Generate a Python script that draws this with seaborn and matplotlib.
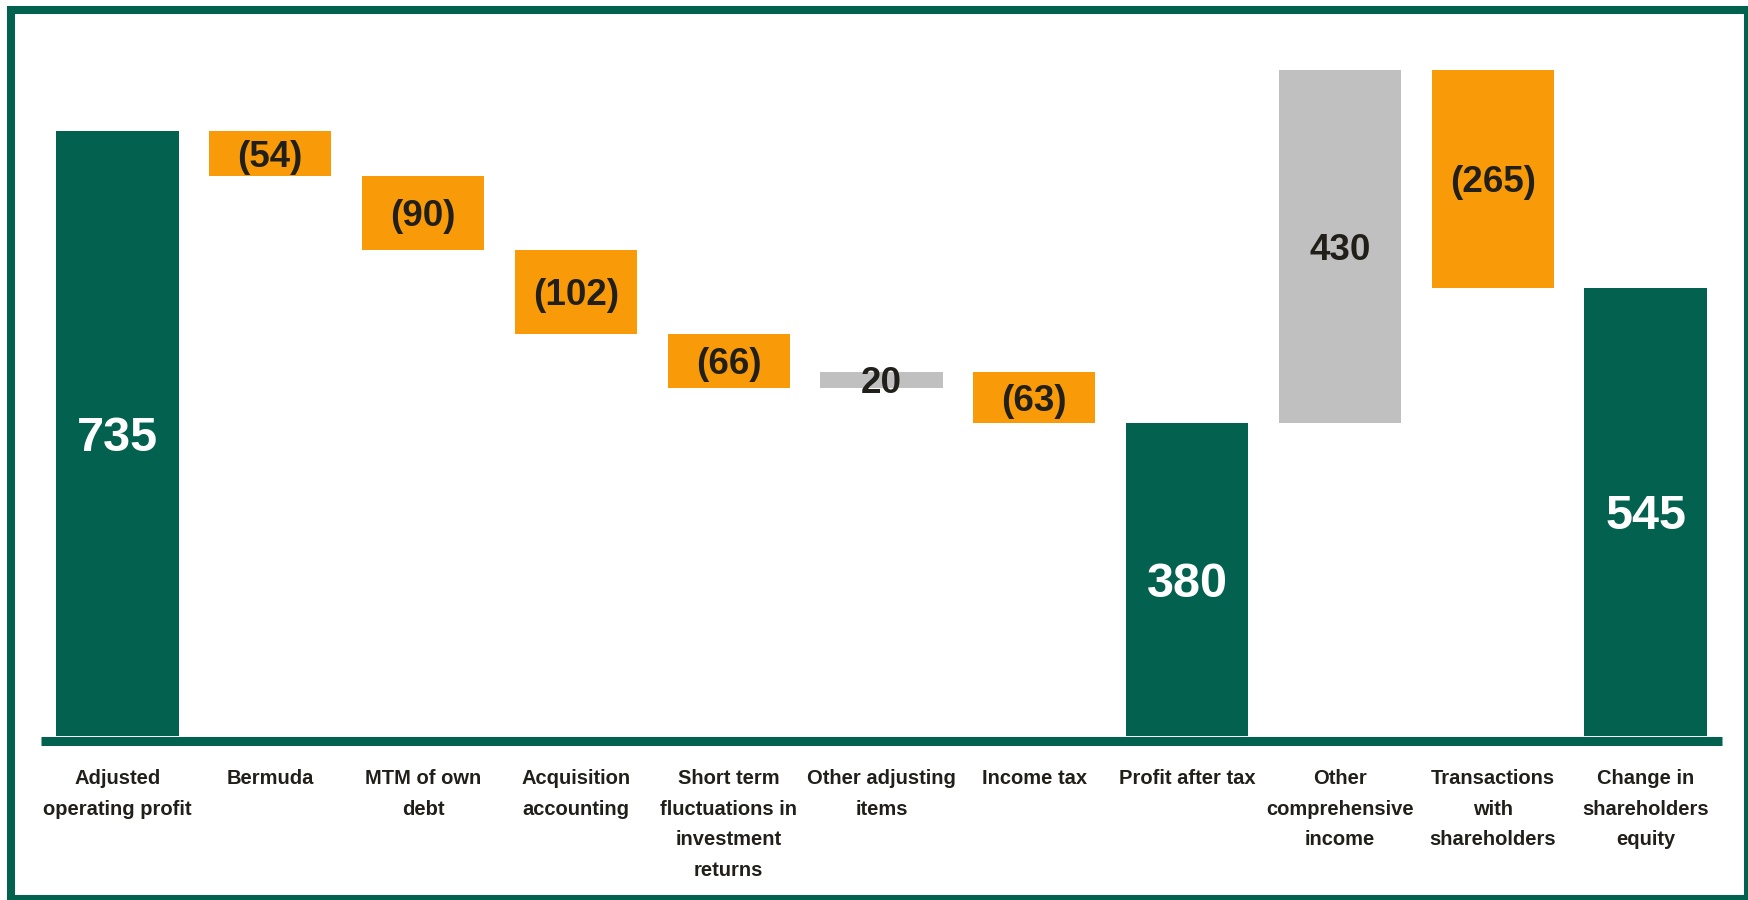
import matplotlib
matplotlib.use("Agg")
import matplotlib.pyplot as plt
import numpy as np
import pandas as pd
import seaborn as sns
from matplotlib.patches import Rectangle

categories = [
    "Adjusted\noperating profit", "Bermuda", "MTM of own\ndebt", "Acquisition\naccounting",
    "Short term\nfluctuations in\ninvestment\nreturns", "Other adjusting\nitems", "Income tax",
    "Profit after tax", "Other\ncomprehensive\nincome", "Transactions\nwith\nshareholders",
    "Change in\nshareholders\nequity",
]
values = [735, -54, -90, -102, -66, 20, -63, 380, 430, -265, 545]
kinds = ["total", "step", "step", "step", "step", "step", "step", "total", "step", "step", "total"]

GREEN = "#02614F"
ORANGE = "#F99A09"
GREY = "#C0C0C0"
DARK = "#211F1A"

# running positions for the waterfall
bottoms, heights = [], []
level = 0
for v, k in zip(values, kinds):
    if k == "total":
        bottoms.append(0); heights.append(v); level = v
    else:
        new = level + v
        bottoms.append(min(level, new)); heights.append(abs(v)); level = new
df = pd.DataFrame({"category": categories, "height": heights, "bottom": bottoms, "value": values, "kind": kinds})
df["colour"] = [GREEN if k == "total" else (GREY if v > 0 else ORANGE) for k, v in zip(kinds, values)]

sns.set_theme(style="white")
plt.rcParams["font.family"] = ["Liberation Sans", "DejaVu Sans"]

fig = plt.figure(figsize=(17.49, 9.0), dpi=100)
ax = fig.add_axes([0.02344, 0.1822, 0.96112, 0.7769])
sns.barplot(data=df, x="category", y="height", bottom=df["bottom"].to_numpy(), width=0.8,
            color=GREEN, saturation=1, linewidth=0, ax=ax)
for bar, c in zip(ax.patches, df["colour"]):
    bar.set_facecolor(c); bar.set_edgecolor(c)

for i, row in df.iterrows():
    label = f"{row.value}" if row.value > 0 else f"({-row.value})"
    mid = row.bottom + row.height / 2
    if row.kind == "total":
        ax.text(i, mid, label, ha="center", va="center_baseline", color="white", fontsize=35, fontweight="bold")
    else:
        ax.text(i, mid, label, ha="center", va="center_baseline", color=DARK, fontsize=26.5, fontweight="bold")

# category names under the baseline
for i, name in enumerate(categories):
    ax.text(i, -0.0477, name, transform=ax.get_xaxis_transform(), ha="center", va="top",
            fontsize=14.5, fontweight="bold", color=DARK, linespacing=1.76, multialignment="center")

ax.set_xlim(-0.5, 10.5); ax.set_ylim(0, 850)
ax.set(xlabel="", ylabel="", xticks=[], yticks=[])
for side in ["top", "left", "right"]:
    ax.spines[side].set_visible(False)
sp = ax.spines["bottom"]
sp.set_color(GREEN); sp.set_linewidth(6.5); sp.set_capstyle("butt")
sp.set_position(("outward", 3.3))
ax.set_facecolor("white")

fig.patches.append(Rectangle((0.00629, 0.0011), 0.9931, 0.9878, transform=fig.transFigure,
                             fill=False, edgecolor=GREEN, linewidth=5.8))
fig.savefig("out.png", dpi=100, facecolor="white")
